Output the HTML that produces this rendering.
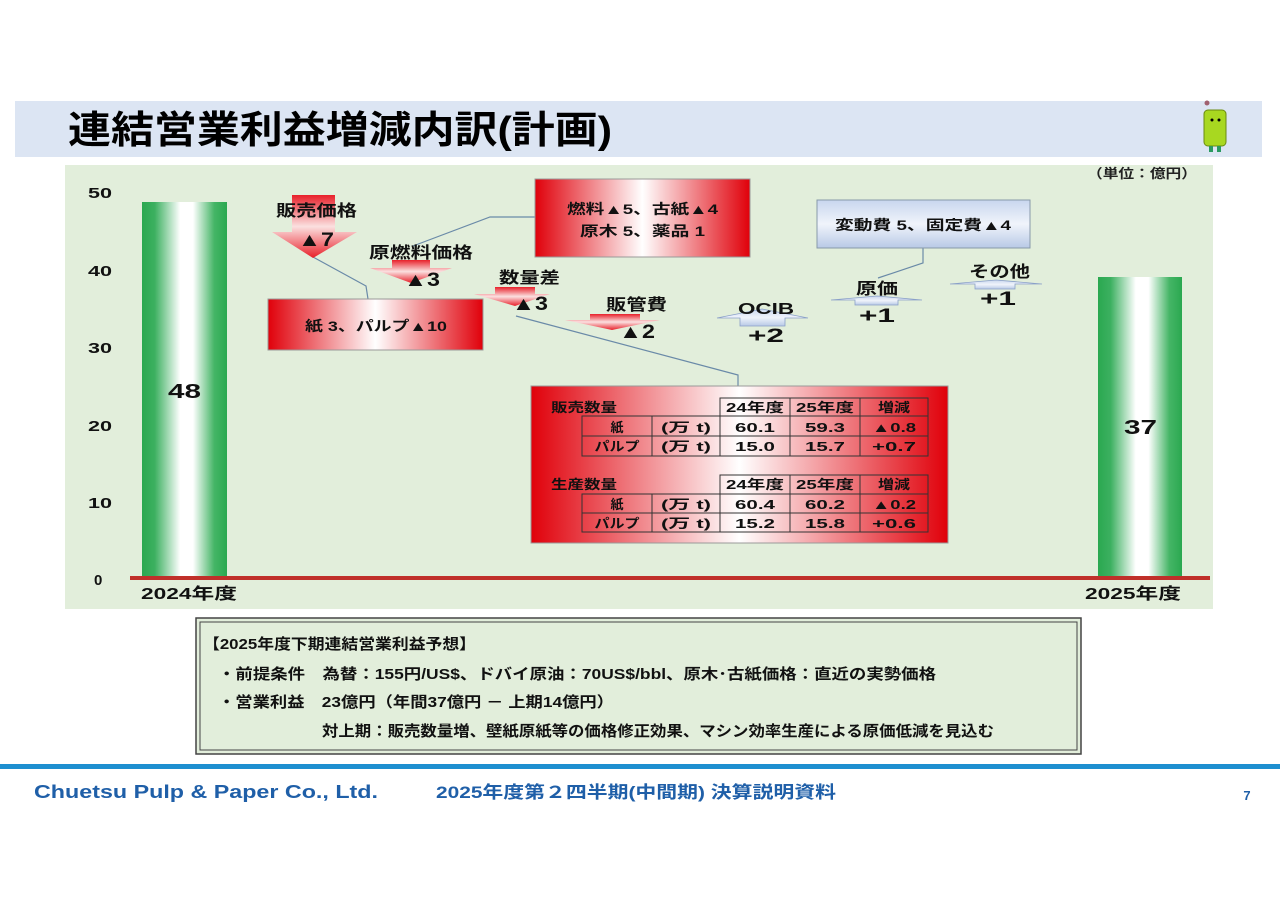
<!DOCTYPE html>
<html><head><meta charset="utf-8"><style>
html,body{margin:0;padding:0;background:#fff;}
svg{display:block;}
text{font-family:"Liberation Sans","Noto Sans CJK JP",sans-serif;font-weight:bold;}
</style></head><body>
<svg width="1280" height="904" viewBox="0 0 1280 904" xmlns="http://www.w3.org/2000/svg">
<defs>
<linearGradient id="gbar" x1="0" x2="1" y1="0" y2="0">
<stop offset="0" stop-color="#2aa850"/><stop offset="0.15" stop-color="#3cb060"/><stop offset="0.45" stop-color="#ffffff"/><stop offset="0.6" stop-color="#ffffff"/><stop offset="0.85" stop-color="#45b566"/><stop offset="1" stop-color="#2aa850"/>
</linearGradient>
<linearGradient id="gred" x1="0" x2="1" y1="0" y2="0">
<stop offset="0" stop-color="#e0000a"/><stop offset="0.5" stop-color="#ffffff"/><stop offset="1" stop-color="#e0000a"/>
</linearGradient>
<linearGradient id="gredv" x1="0" x2="0" y1="0" y2="1">
<stop offset="0" stop-color="#e8202a"/><stop offset="0.5" stop-color="#fbe0e0"/><stop offset="1" stop-color="#e8202a"/>
</linearGradient>
<linearGradient id="gblue" x1="0" x2="0" y1="0" y2="1">
<stop offset="0" stop-color="#c8d6ee"/><stop offset="0.5" stop-color="#f0f4fb"/><stop offset="1" stop-color="#b8c9e6"/>
</linearGradient>
</defs>
<rect x="15" y="101" width="1247" height="56" fill="#dce5f3"/>
<text x="68" y="143" font-size="38" textLength="544" lengthAdjust="spacingAndGlyphs" fill="#000">連結営業利益増減内訳(計画)</text>
<rect x="1204" y="110" width="22" height="36" rx="4" fill="#a8d820" stroke="#6a8a10" stroke-width="1"/>
<circle cx="1207" cy="103" r="2.5" fill="#a06070"/>
<circle cx="1212" cy="120" r="1.5" fill="#000"/><circle cx="1219" cy="120" r="1.5" fill="#000"/>
<rect x="1209" y="146" width="4" height="6" fill="#2a9a60"/><rect x="1217" y="146" width="4" height="6" fill="#2a9a60"/>
<rect x="65" y="165" width="1148" height="444" fill="#e2eedb"/>
<text x="1087" y="178" font-size="13" textLength="110" lengthAdjust="spacingAndGlyphs" fill="#222">（単位：億円）</text>
<g font-size="15" fill="#111">
<text x="88" y="198" textLength="24" lengthAdjust="spacingAndGlyphs">50</text><text x="88" y="276" textLength="24" lengthAdjust="spacingAndGlyphs">40</text><text x="88" y="353" textLength="24" lengthAdjust="spacingAndGlyphs">30</text>
<text x="88" y="431" textLength="24" lengthAdjust="spacingAndGlyphs">20</text><text x="88" y="508" textLength="24" lengthAdjust="spacingAndGlyphs">10</text><text x="94" y="585">0</text>
</g>
<rect x="142" y="202" width="85" height="376" fill="url(#gbar)"/>
<rect x="1098" y="277" width="84" height="301" fill="url(#gbar)"/>
<text x="168" y="398" font-size="20" textLength="33" lengthAdjust="spacingAndGlyphs" fill="#111">48</text>
<text x="1124" y="434" font-size="20" textLength="33" lengthAdjust="spacingAndGlyphs" fill="#111">37</text>
<rect x="130" y="576" width="1080" height="4" fill="#c0302a"/>
<text x="141" y="599" font-size="16" textLength="96" lengthAdjust="spacingAndGlyphs" fill="#111">2024年度</text>
<text x="1085" y="599" font-size="16" textLength="96" lengthAdjust="spacingAndGlyphs" fill="#111">2025年度</text>
<g stroke="#6a8aa8" stroke-width="1.2" fill="none">
<polyline points="313,257 366,286 368,299"/>
<polyline points="413,246 490,217 535,217"/>
<polyline points="516,316 738,375 738,386"/>
<polyline points="923,248 923,263 878,278"/>
</g>
<polygon points="292,195 335,195 335,232 357,232 313,258 272,232 292,232" fill="url(#gredv)"/>
<polygon points="392,260 430,260 430,268 452,268 411,283 370,268 392,268" fill="url(#gredv)"/>
<polygon points="495,287 535,287 535,294 550,294 515,306 474,294 495,294" fill="url(#gredv)"/>
<polygon points="590,314 640,314 640,320 660,320 612,330 565,320 590,320" fill="url(#gredv)"/>
<polygon points="762,309 808,318 785,318 785,326 740,326 740,318 717,318" fill="url(#gblue)" stroke="#8aa0c8" stroke-width="0.8"/>
<polygon points="877,296 922,300 898,300 898,305 855,305 855,300 831,300" fill="url(#gblue)" stroke="#8aa0c8" stroke-width="0.8"/>
<polygon points="996,280 1042,284 1015,284 1015,289 975,289 975,284 950,284" fill="url(#gblue)" stroke="#8aa0c8" stroke-width="0.8"/>
<g font-size="16" fill="#111">
<text x="276" y="216" textLength="81" lengthAdjust="spacingAndGlyphs">販売価格</text>
<text x="298" y="246" font-size="19" textLength="36" lengthAdjust="spacingAndGlyphs">▲7</text>
<text x="369" y="258" textLength="104" lengthAdjust="spacingAndGlyphs">原燃料価格</text>
<text x="404" y="286" font-size="19" textLength="36" lengthAdjust="spacingAndGlyphs">▲3</text>
<text x="499" y="283" textLength="61" lengthAdjust="spacingAndGlyphs">数量差</text>
<text x="512" y="310" font-size="19" textLength="36" lengthAdjust="spacingAndGlyphs">▲3</text>
<text x="606" y="310" textLength="61" lengthAdjust="spacingAndGlyphs">販管費</text>
<text x="619" y="338" font-size="19" textLength="36" lengthAdjust="spacingAndGlyphs">▲2</text>
<text x="738" y="314" textLength="56" lengthAdjust="spacingAndGlyphs">OCIB</text>
<text x="748" y="342" font-size="19" textLength="36" lengthAdjust="spacingAndGlyphs">+2</text>
<text x="856" y="294" textLength="42" lengthAdjust="spacingAndGlyphs">原価</text>
<text x="859" y="322" font-size="19" textLength="36" lengthAdjust="spacingAndGlyphs">+1</text>
<text x="969" y="277" textLength="61" lengthAdjust="spacingAndGlyphs">その他</text>
<text x="980" y="305" font-size="19" textLength="36" lengthAdjust="spacingAndGlyphs">+1</text>
</g>
<rect x="268" y="299" width="215" height="51" fill="url(#gred)" stroke="#999" stroke-width="1"/>
<text x="305" y="331" font-size="14" textLength="142" lengthAdjust="spacingAndGlyphs" fill="#111">紙 3、パルプ▲10</text>
<rect x="535" y="179" width="215" height="78" fill="url(#gred)" stroke="#999" stroke-width="1"/>
<text x="567" y="214" font-size="14" textLength="151" lengthAdjust="spacingAndGlyphs" fill="#111">燃料▲5、古紙▲4</text>
<text x="580" y="236" font-size="14" textLength="125" lengthAdjust="spacingAndGlyphs" fill="#111">原木 5、薬品 1</text>
<rect x="817" y="200" width="213" height="48" fill="url(#gblue)" stroke="#8899aa" stroke-width="1"/>
<text x="835" y="230" font-size="14" textLength="176" lengthAdjust="spacingAndGlyphs" fill="#111">変動費 5、固定費▲4</text>
<rect x="531" y="386" width="417" height="157" fill="url(#gred)" stroke="#999" stroke-width="1"/>
<g stroke="#333" stroke-width="1" fill="none">
<rect x="720" y="398" width="208" height="18"/><line x1="790" y1="398" x2="790" y2="456"/><line x1="860" y1="398" x2="860" y2="456"/>
<rect x="582" y="416" width="346" height="40"/><line x1="582" y1="436" x2="928" y2="436"/><line x1="652" y1="416" x2="652" y2="456"/><line x1="720" y1="416" x2="720" y2="456"/>
<rect x="720" y="475" width="208" height="19"/><line x1="790" y1="475" x2="790" y2="532"/><line x1="860" y1="475" x2="860" y2="532"/>
<rect x="582" y="494" width="346" height="38"/><line x1="582" y1="513" x2="928" y2="513"/><line x1="652" y1="494" x2="652" y2="532"/><line x1="720" y1="494" x2="720" y2="532"/>
</g>
<g font-size="13" fill="#111" text-anchor="middle">
<text x="584" y="412" textLength="66" lengthAdjust="spacingAndGlyphs">販売数量</text>
<text x="755" y="412" textLength="58" lengthAdjust="spacingAndGlyphs">24年度</text><text x="825" y="412" textLength="58" lengthAdjust="spacingAndGlyphs">25年度</text><text x="894" y="412" textLength="32" lengthAdjust="spacingAndGlyphs">増減</text>
<text x="617" y="432">紙</text><text x="686" y="432" textLength="50" lengthAdjust="spacingAndGlyphs">(万 t)</text><text x="755" y="432" textLength="40" lengthAdjust="spacingAndGlyphs">60.1</text><text x="825" y="432" textLength="40" lengthAdjust="spacingAndGlyphs">59.3</text><text x="894" y="432" textLength="44" lengthAdjust="spacingAndGlyphs">▲0.8</text>
<text x="617" y="451" textLength="45" lengthAdjust="spacingAndGlyphs">パルプ</text><text x="686" y="451" textLength="50" lengthAdjust="spacingAndGlyphs">(万 t)</text><text x="755" y="451" textLength="40" lengthAdjust="spacingAndGlyphs">15.0</text><text x="825" y="451" textLength="40" lengthAdjust="spacingAndGlyphs">15.7</text><text x="894" y="451" textLength="44" lengthAdjust="spacingAndGlyphs">+0.7</text>
<text x="584" y="489" textLength="66" lengthAdjust="spacingAndGlyphs">生産数量</text>
<text x="755" y="489" textLength="58" lengthAdjust="spacingAndGlyphs">24年度</text><text x="825" y="489" textLength="58" lengthAdjust="spacingAndGlyphs">25年度</text><text x="894" y="489" textLength="32" lengthAdjust="spacingAndGlyphs">増減</text>
<text x="617" y="509">紙</text><text x="686" y="509" textLength="50" lengthAdjust="spacingAndGlyphs">(万 t)</text><text x="755" y="509" textLength="40" lengthAdjust="spacingAndGlyphs">60.4</text><text x="825" y="509" textLength="40" lengthAdjust="spacingAndGlyphs">60.2</text><text x="894" y="509" textLength="44" lengthAdjust="spacingAndGlyphs">▲0.2</text>
<text x="617" y="528" textLength="45" lengthAdjust="spacingAndGlyphs">パルプ</text><text x="686" y="528" textLength="50" lengthAdjust="spacingAndGlyphs">(万 t)</text><text x="755" y="528" textLength="40" lengthAdjust="spacingAndGlyphs">15.2</text><text x="825" y="528" textLength="40" lengthAdjust="spacingAndGlyphs">15.8</text><text x="894" y="528" textLength="44" lengthAdjust="spacingAndGlyphs">+0.6</text>
</g>
<rect x="196" y="618" width="885" height="136" fill="#e2eedb" stroke="#444" stroke-width="1.5"/>
<rect x="200" y="622" width="877" height="128" fill="none" stroke="#444" stroke-width="1"/>
<g font-size="15" fill="#111">
<text x="203" y="649" textLength="273" lengthAdjust="spacingAndGlyphs">【2025年度下期連結営業利益予想】</text>
<text x="218" y="679" textLength="718" lengthAdjust="spacingAndGlyphs">・前提条件　為替：155円/US$、ドバイ原油：70US$/bbl、原木･古紙価格：直近の実勢価格</text>
<text x="218" y="707" textLength="396" lengthAdjust="spacingAndGlyphs">・営業利益　23億円（年間37億円 － 上期14億円）</text>
<text x="322" y="736" textLength="672" lengthAdjust="spacingAndGlyphs">対上期：販売数量増、壁紙原紙等の価格修正効果、マシン効率生産による原価低減を見込む</text>
</g>
<rect x="0" y="764" width="1280" height="5" fill="#1e8fd0"/>
<text x="34" y="798" font-size="18" textLength="344" lengthAdjust="spacingAndGlyphs" fill="#1f5fa8">Chuetsu Pulp &amp; Paper Co., Ltd.</text>
<text x="436" y="798" font-size="17" textLength="400" lengthAdjust="spacingAndGlyphs" fill="#1f5fa8">2025年度第２四半期(中間期) 決算説明資料</text>
<text x="1247" y="800" font-size="13" text-anchor="middle" fill="#1f5fa8">7</text>
</svg>
</body></html>
